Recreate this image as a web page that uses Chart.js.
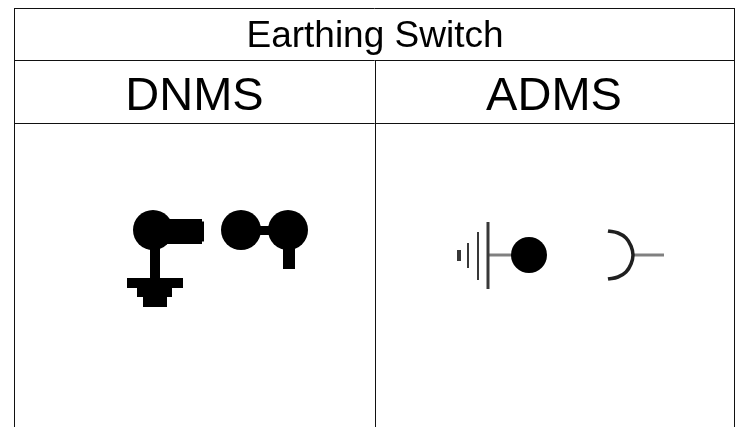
<!DOCTYPE html>
<html>
  <head>
    <title>Earthing Switch</title>
    <script src="https://cdn.jsdelivr.net/npm/chart.js"></script>
    <style>
      html, body { margin: 0; padding: 0; background: white; overflow: hidden; }
      canvas { display: block; filter: blur(0.35px); }
    </style>
  </head>
  <body>
    <canvas id="symbolChart" width="737" height="427"></canvas>

    <script>
      // everything below is in picture units, x to the right and y downwards
      const titleText = ["Earthing Switch"];
      const titleX = [375];
      const titleY = [47];
      const headers = ["DNMS", "ADMS"];
      const headerX = [194.5, 554];
      const headerY = [110, 110];

      const tableTop = [{ x: 14, y: 8.5 }, { x: 735, y: 8.5 }];
      const tableRow1 = [{ x: 14, y: 60.5 }, { x: 735, y: 60.5 }];
      const tableRow2 = [{ x: 14, y: 123.5 }, { x: 735, y: 123.5 }];
      const tableLeft = [{ x: 14.5, y: 8 }, { x: 14.5, y: 427 }];
      const tableMid = [{ x: 375.5, y: 60 }, { x: 375.5, y: 427 }];
      const tableRight = [{ x: 734.5, y: 8 }, { x: 734.5, y: 427 }];

      // DNMS symbol
      const dnmsCircles = [{ x: 153, y: 230 }, { x: 241, y: 230 }, { x: 288, y: 230 }];
      const dnmsArm = [{ x: 153, y: 231.5 }, { x: 202, y: 231.5 }];
      const dnmsArmEnd = [{ x: 202, y: 231.5 }, { x: 204, y: 231.5 }];
      const dnmsStem = [{ x: 155, y: 240 }, { x: 155, y: 280 }];
      const dnmsGround1 = [{ x: 127, y: 283 }, { x: 183, y: 283 }];
      const dnmsGround2 = [{ x: 137, y: 292 }, { x: 172, y: 292 }];
      const dnmsGround3 = [{ x: 143, y: 301 }, { x: 167, y: 301 }];
      const dnmsLink = [{ x: 255, y: 230.5 }, { x: 275, y: 230.5 }];
      const dnmsTail = [{ x: 289, y: 240 }, { x: 289, y: 269 }];

      // ADMS symbol
      const admsCircle = [{ x: 529, y: 255 }];
      const admsBar1 = [{ x: 459, y: 250 }, { x: 459, y: 261 }];
      const admsBar2 = [{ x: 468, y: 243 }, { x: 468, y: 268 }];
      const admsBar3 = [{ x: 478, y: 232 }, { x: 478, y: 280 }];
      const admsBar4 = [{ x: 488, y: 222 }, { x: 488, y: 289 }];
      const admsLead = [{ x: 488, y: 255 }, { x: 515, y: 255 }];
      const admsArc = [
        { x: 608, y: 231 }, { x: 618, y: 233 }, { x: 626, y: 238 },
        { x: 631, y: 246 }, { x: 633, y: 255 },
        { x: 631, y: 264 }, { x: 626, y: 272 }, { x: 618, y: 277 },
        { x: 608, y: 279 },
      ];
      const admsWire = [{ x: 633, y: 255 }, { x: 664, y: 255 }];

      const black = "#000000";
      const tableLine = "#111111";
      const darkGrey = "#383838";
      const grey = "#808080";

      function stroke(points, color, width, tension) {
        return {
          data: points,
          showLine: true,
          borderColor: color,
          borderWidth: width,
          tension: tension || 0,
          pointRadius: 0,
          clip: false,
        };
      }

      function dots(points, radius) {
        return {
          data: points,
          showLine: false,
          backgroundColor: black,
          borderWidth: 0,
          pointRadius: radius,
          clip: false,
        };
      }

      // table captions are ordinary canvas text placed through the scales
      const tableText = {
        id: "tableText",
        afterDatasetsDraw(chart) {
          const { ctx, scales } = chart;
          ctx.save();
          ctx.fillStyle = black;
          ctx.textAlign = "center";
          ctx.textBaseline = "alphabetic";
          ctx.font = '37px "Liberation Sans", Arial, sans-serif';
          titleText.forEach((t, i) => {
            ctx.fillText(t, scales.x.getPixelForValue(titleX[i]), scales.y.getPixelForValue(titleY[i]));
          });
          ctx.font = '47px "Liberation Sans", Arial, sans-serif';
          headers.forEach((t, i) => {
            ctx.fillText(t, scales.x.getPixelForValue(headerX[i]), scales.y.getPixelForValue(headerY[i]));
          });
          ctx.restore();
        },
      };

      new Chart(document.getElementById("symbolChart").getContext("2d"), {
        type: "scatter",
        data: {
          datasets: [
            stroke(tableTop, tableLine, 1),
            stroke(tableRow1, tableLine, 1),
            stroke(tableRow2, tableLine, 1),
            stroke(tableLeft, tableLine, 1),
            stroke(tableMid, tableLine, 1),
            stroke(tableRight, tableLine, 1),
            dots(dnmsCircles, 20),
            stroke(dnmsArm, black, 25),
            stroke(dnmsArmEnd, black, 20),
            stroke(dnmsStem, black, 10),
            stroke(dnmsGround1, black, 10),
            stroke(dnmsGround2, black, 10),
            stroke(dnmsGround3, black, 12),
            stroke(dnmsLink, black, 9),
            stroke(dnmsTail, black, 12),
            dots(admsCircle, 18),
            stroke(admsBar1, darkGrey, 4),
            stroke(admsBar2, darkGrey, 2),
            stroke(admsBar3, darkGrey, 2),
            stroke(admsBar4, darkGrey, 3),
            stroke(admsLead, grey, 3),
            stroke(admsArc, "#202020", 3.5, 0.4),
            stroke(admsWire, grey, 3),
          ],
        },
        options: {
          responsive: false,
          animation: false,
          layout: { padding: 0, autoPadding: false },
          plugins: { legend: { display: false }, tooltip: { enabled: false } },
          scales: {
            x: { type: "linear", min: 0, max: 737, display: false },
            y: { type: "linear", min: 0, max: 427, reverse: true, display: false },
          },
        },
        plugins: [tableText],
      });
    </script>
  </body>
</html>
